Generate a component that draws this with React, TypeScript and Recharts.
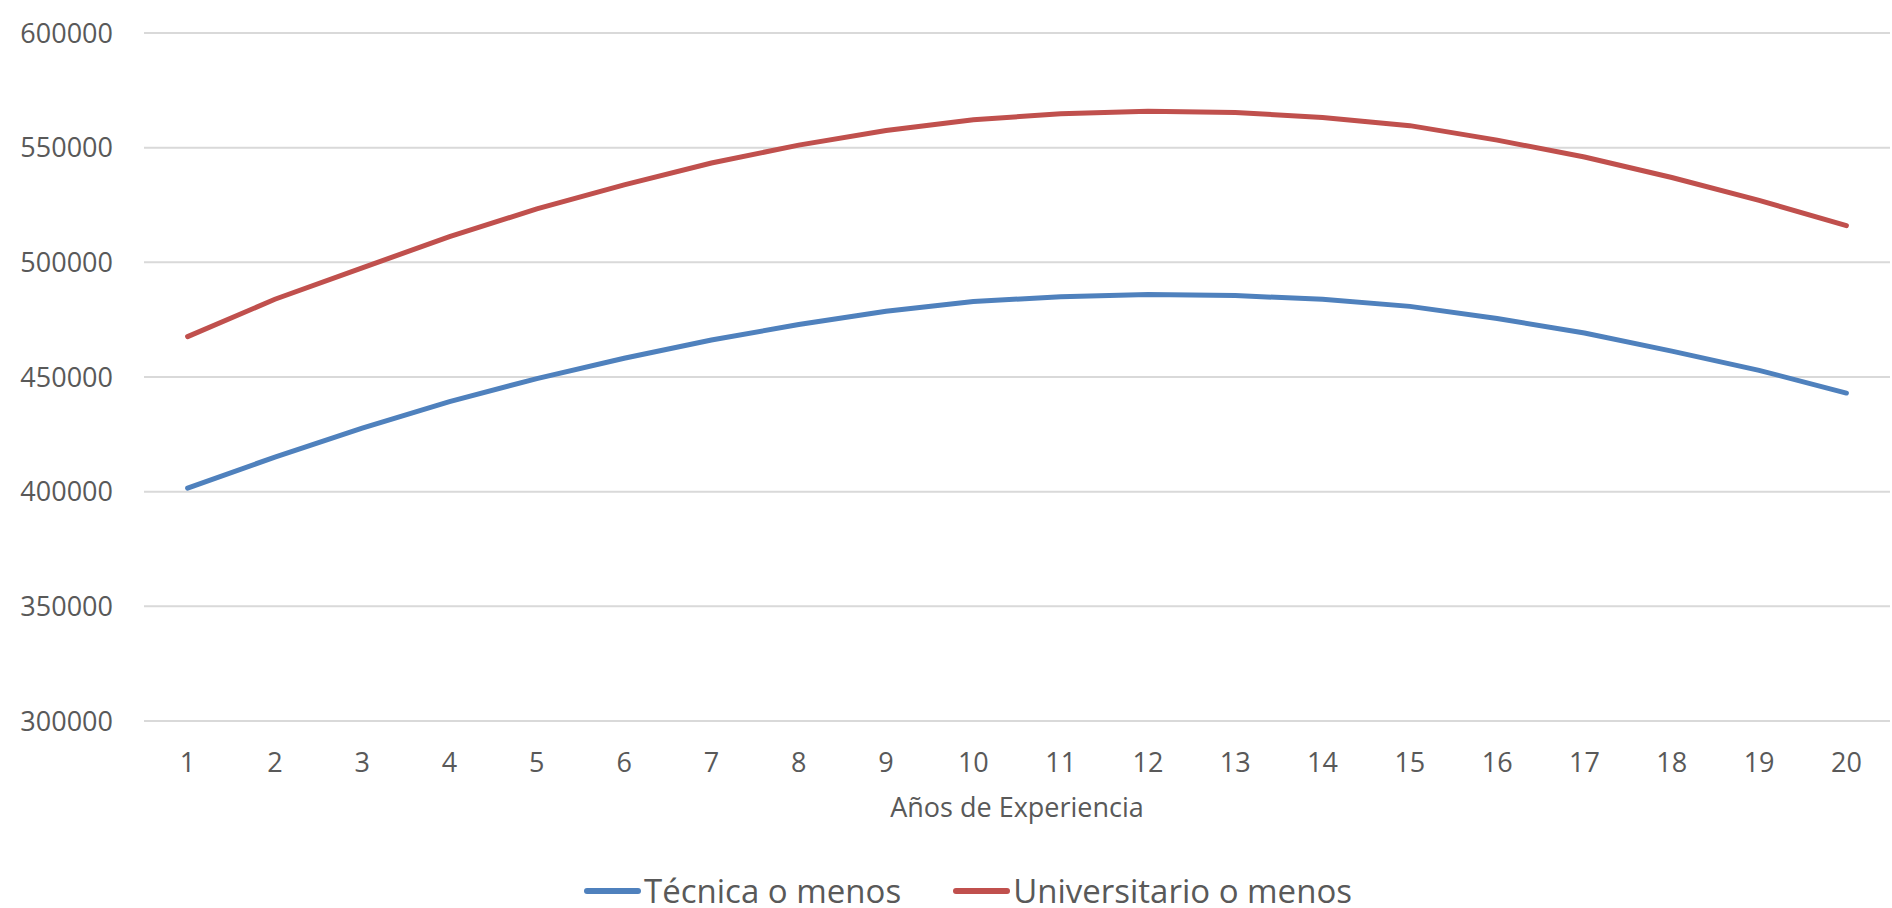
import { CartesianGrid, Label, Legend, Line, LineChart, XAxis, YAxis } from "recharts"

const years = [1, 2, 3, 4, 5, 6, 7, 8, 9, 10, 11, 12, 13, 14, 15, 16, 17, 18, 19, 20]

const tecnica = [
  401500, 415100, 427700, 439300, 449300, 458200, 466100, 472900, 478700, 482900,
  485000, 486000, 485500, 483900, 480800, 475500, 469200, 461300, 452900, 443000,
]

const universitario = [
  467600, 483900, 497600, 511200, 523300, 533800, 543300, 551100, 557500, 562200,
  564800, 565900, 565300, 563200, 559600, 553300, 545900, 537000, 527000, 516000,
]

const yTicks = [300000, 350000, 400000, 450000, 500000, 550000, 600000]

const series = [
  { key: "tecnica", name: "Técnica o menos", color: "#4F81BD" },
  { key: "universitario", name: "Universitario o menos", color: "#C0504D" },
]

const data = years.map((year, i) => ({
  year,
  tecnica: tecnica[i],
  universitario: universitario[i],
}))

const font = "'Open Sans', sans-serif"
const textColor = "#595959"

// y labels right-aligned 31px left of the plot edge (plot starts at 144)
function YTick(props: any) {
  const { y, payload } = props
  return (
    <text x={113} y={y} dy="0.355em" textAnchor="end" fill={textColor} fontSize={27} fontFamily={font}>
      {payload.value}
    </text>
  )
}

function ChartLegend() {
  return (
    <div style={{ display: "flex", alignItems: "center", fontFamily: font, fontSize: 33, lineHeight: 1, color: textColor }}>
      {series.map((s, i) => (
        <div key={s.key} style={{ display: "flex", alignItems: "center", marginLeft: i === 0 ? 0 : 52 }}>
          <span style={{ display: "inline-block", width: 57, height: 6, borderRadius: 3, background: s.color, marginRight: 3 }} />
          <span>{s.name}</span>
        </div>
      ))}
    </div>
  )
}

export default function App() {
  return (
    <div style={{ position: "absolute", left: 0, top: 0, width: 1892, height: 908, background: "#fff" }}>
      <LineChart width={1892} height={908} data={data} margin={{ top: 33, right: 2, left: 0, bottom: 0 }}>
        <CartesianGrid stroke="#D9D9D9" strokeWidth={2} vertical={false} />
        <XAxis
          dataKey="year"
          height={187}
          padding={{ left: 43.6, right: 43.6 }}
          tickLine={false}
          axisLine={false}
          tickSize={0}
          tickMargin={32}
          interval={0}
          tick={{ fill: textColor, fontSize: 27, fontFamily: font }}
        >
          <Label
            value="Años de Experiencia"
            position="insideBottom"
            offset={91}
            fill={textColor}
            fontSize={27}
            fontFamily={font}
          />
        </XAxis>
        <YAxis
          domain={[300000, 600000]}
          ticks={yTicks}
          width={144}
          tickLine={false}
          axisLine={false}
          tickSize={0}
          tick={<YTick />}
        />
        <Legend
          layout="horizontal"
          verticalAlign="middle"
          align="center"
          wrapperStyle={{ left: 584, top: 874, width: "auto" }}
          content={() => <ChartLegend />}
        />
        {series.map((s) => (
          <Line
            key={s.key}
            type="linear"
            dataKey={s.key}
            name={s.name}
            stroke={s.color}
            strokeWidth={5}
            strokeLinecap="round"
            dot={false}
            activeDot={false}
            isAnimationActive={false}
          />
        ))}
      </LineChart>
    </div>
  )
}
